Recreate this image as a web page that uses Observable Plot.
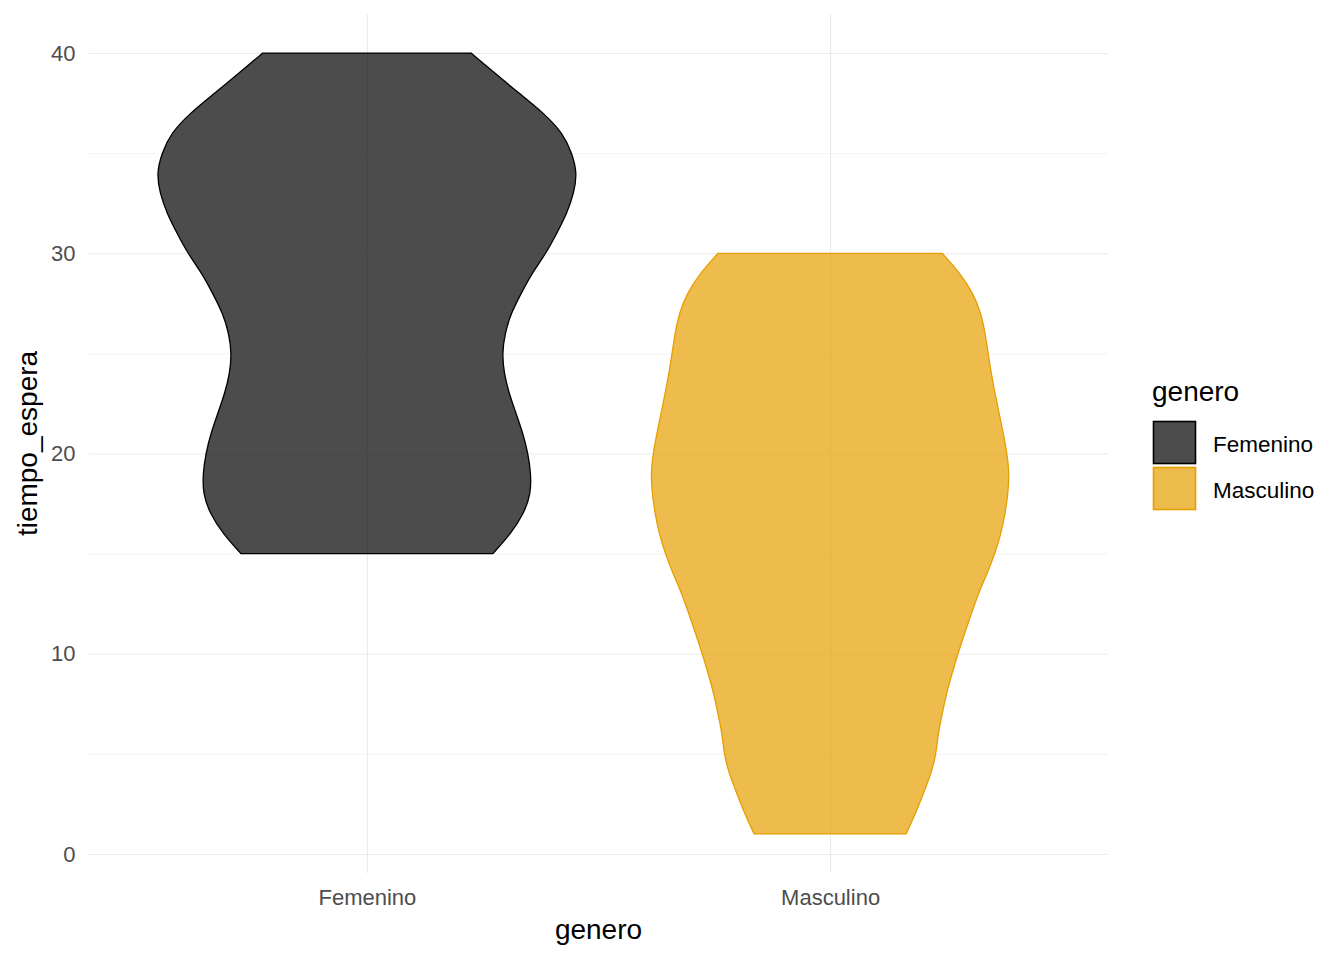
<!DOCTYPE html>
<html><head><meta charset="utf-8">
<script src="https://cdn.jsdelivr.net/npm/d3@7"></script>
<script src="https://cdn.jsdelivr.net/npm/@observablehq/plot@0.6"></script>
<style>
html,body{margin:0;padding:0;background:#fff;}
#chart{width:1344px;height:960px;}
</style></head><body><div id="chart"></div>
<script>
const categories = ["Femenino", "Masculino"];
const colors = ["#000000", "#E69F00"];
const yTicks = [0, 10, 20, 30, 40];
const yMinor = [5, 15, 25, 35];

// violin outline: tiempo_espera values and half-widths (in category units)
const femY = [15, 16, 17, 18, 19, 20, 21, 22, 23, 24, 25, 26, 27, 28, 29, 30, 31, 32, 33, 34, 35, 36, 37, 38, 39, 40];
const femW = [0.272, 0.311, 0.339, 0.354, 0.354, 0.348, 0.337, 0.322, 0.307, 0.296, 0.292, 0.298, 0.311, 0.333, 0.356, 0.387, 0.410, 0.432, 0.447, 0.454, 0.443, 0.423, 0.382, 0.328, 0.276, 0.225];
const mascY = [1, 2, 3, 4, 5, 6, 7, 8, 9, 10, 11, 12, 13, 14, 15, 16, 17, 18, 19, 20, 21, 22, 23, 24, 25, 26, 27, 28, 29, 30];
const mascW = [0.164, 0.184, 0.201, 0.218, 0.229, 0.233, 0.242, 0.251, 0.263, 0.276, 0.290, 0.305, 0.320, 0.339, 0.356, 0.369, 0.378, 0.384, 0.387, 0.382, 0.374, 0.365, 0.356, 0.348, 0.341, 0.335, 0.326, 0.309, 0.281, 0.242];

const rows = [];
femY.forEach((y, i) => rows.push({genero: categories[0], pos: 1, y, w: femW[i]}));
mascY.forEach((y, i) => rows.push({genero: categories[1], pos: 2, y, w: mascW[i]}));

const font = "'Liberation Sans', Arial, sans-serif";
const plot = Plot.plot({
  width: 1344, height: 960,
  marginLeft: 89, marginRight: 236, marginTop: 14, marginBottom: 87,
  x: {domain: [0.4, 2.6], axis: null},
  y: {domain: [-0.95, 41.95], axis: null},
  color: {domain: categories, range: colors},
  style: {fontFamily: font, fontSize: "22px", background: "#fff", overflow: "visible"},
  marks: [
    Plot.gridY(yMinor, {stroke: "#EBEBEB", strokeOpacity: 1, strokeWidth: 0.6}),
    Plot.gridY(yTicks, {stroke: "#EBEBEB", strokeOpacity: 1, strokeWidth: 1.1}),
    Plot.gridX([1, 2], {stroke: "#EBEBEB", strokeOpacity: 1, strokeWidth: 1.1}),
    Plot.areaX(rows, {
      y: "y", x1: d => d.pos - d.w, x2: d => d.pos + d.w,
      z: "genero", fill: "genero", stroke: "genero",
      fillOpacity: 0.7, strokeWidth: 1.3, curve: "basis"
    }),
    Plot.axisY(yTicks, {tickSize: 0, tickPadding: 14, fontSize: 22, color: "#4D4D4D", label: null}),
    Plot.axisX([1, 2], {tickSize: 0, tickPadding: 16, fontSize: 22, color: "#4D4D4D", label: null,
      tickFormat: d => categories[d - 1]})
  ]
});
document.getElementById("chart").appendChild(plot);

const svg = d3.select(plot);
svg.append("text").attr("x", 598.5).attr("y", 939).attr("text-anchor", "middle")
  .attr("font-size", 28).attr("fill", "#000").text("genero");
svg.append("text").attr("transform", "translate(37,443.5) rotate(-90)").attr("text-anchor", "middle")
  .attr("font-size", 28).attr("fill", "#000").text("tiempo_espera");
svg.append("text").attr("x", 1152).attr("y", 401).attr("text-anchor", "start")
  .attr("font-size", 28).attr("fill", "#000").text("genero");
categories.forEach((c, i) => {
  const y0 = 421 + i * 46;
  svg.append("rect").attr("x", 1153.5).attr("y", y0 + 0.5).attr("width", 42).attr("height", 42)
    .attr("fill", colors[i]).attr("fill-opacity", 0.7).attr("stroke", colors[i]).attr("stroke-width", 1.6);
  svg.append("text").attr("x", 1213).attr("y", y0 + 23).attr("dy", "0.35em").attr("text-anchor", "start")
    .attr("font-size", 22.5).attr("fill", "#000").text(c);
});
</script></body></html>
